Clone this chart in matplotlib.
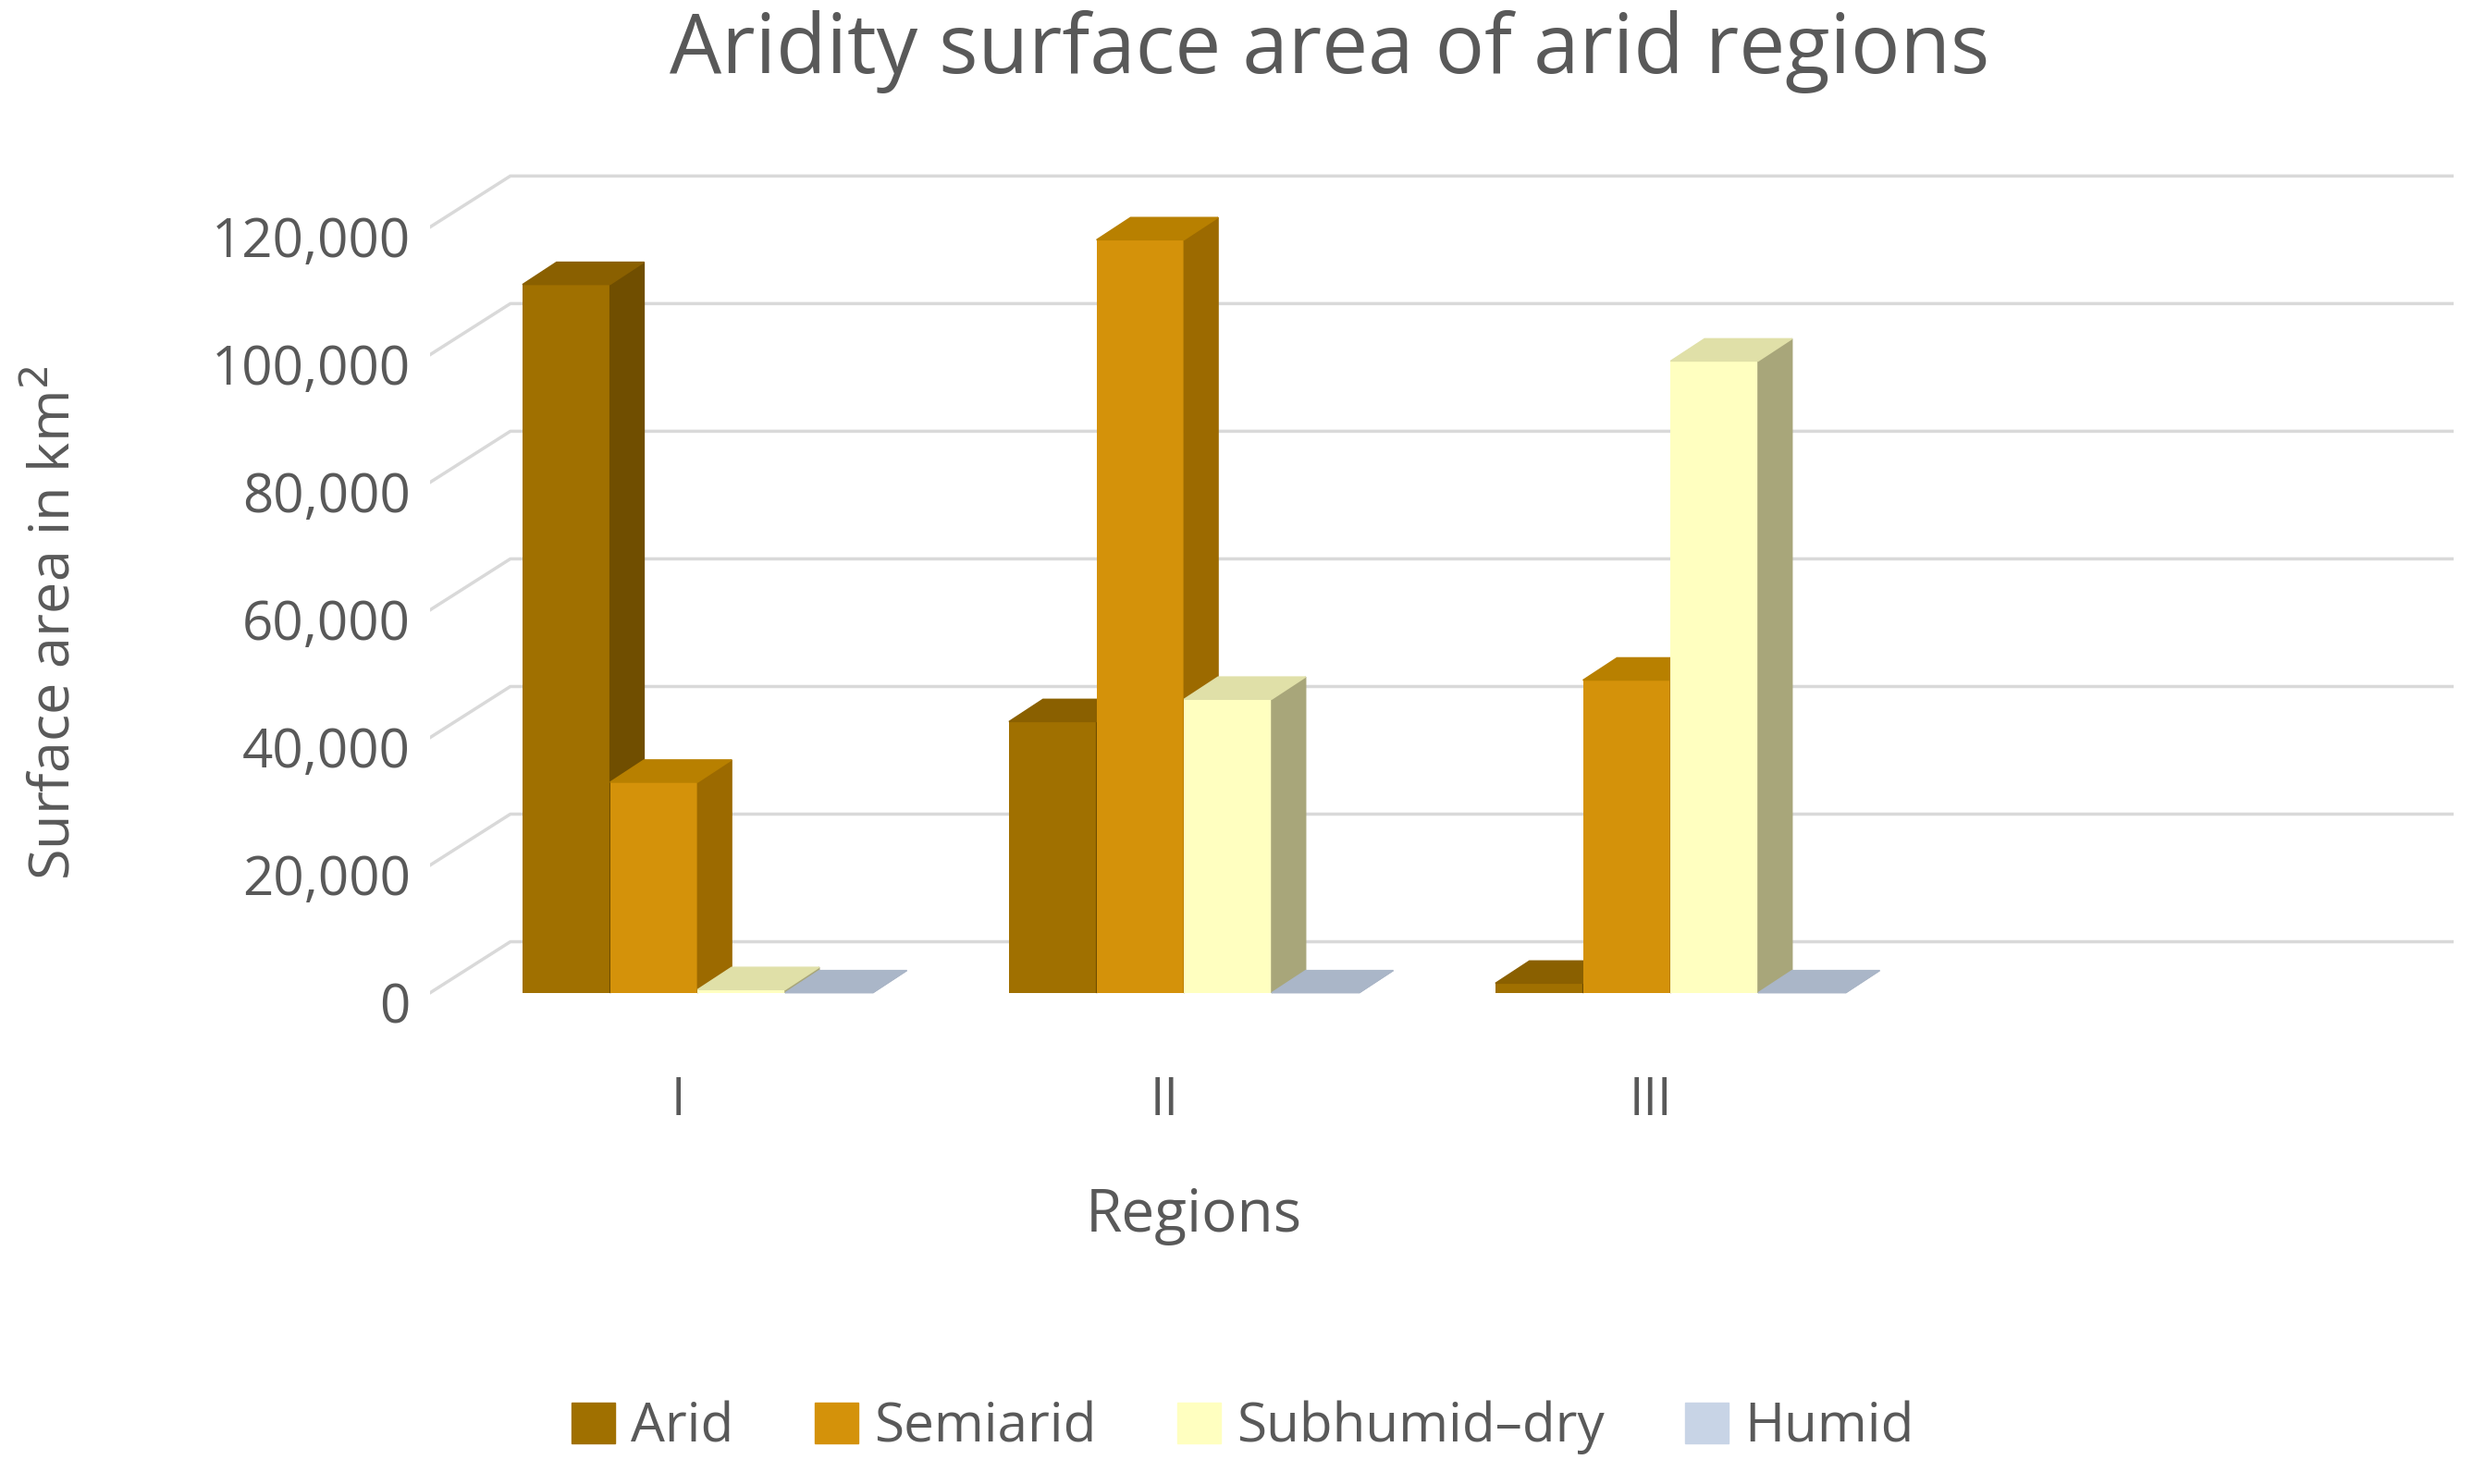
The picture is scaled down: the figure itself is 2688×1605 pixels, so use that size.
import matplotlib.pyplot as plt
from matplotlib.patches import Polygon

plt.rcParams['font.family'] = ['Open Sans', 'DejaVu Sans']

regions = ['I', 'II', 'III']
series = ['Arid', 'Semiarid', 'Subhumid–dry', 'Humid']
arid = [111000, 42500, 1500]
semiarid = [33000, 118000, 49000]
subhumid = [500, 46000, 99000]
humid = [0, 0, 0]
values = [arid, semiarid, subhumid, humid]
yticks = [0, 20000, 40000, 60000, 80000, 100000, 120000]

front = ['#A07000', '#D4920A', '#FFFFC0', '#C8D4E6']
side = ['#704E00', '#9C6A00', '#A8A67A', '#96A2B4']
top = ['#8A6000', '#B88000', '#E0E0A8', '#AAB6C8']

fig = plt.figure(figsize=(26.88, 16.05), dpi=100)
ax = fig.add_axes([0.173, 0.159, 0.814, 0.731])
ax.set_xlim(-0.51, 3.65)
ax.set_ylim(-40000, 130000)
ax.axis('off')

gdx, gdy = 0.165, 8000   # back wall offset for gridlines
dx, dy = 0.07, 3500      # bar depth
xl, xr = -0.51, 3.65
for v in yticks:
    ax.plot([xl, xl + gdx, xr], [v, v + gdy, v + gdy], color='#D9D9D9', lw=2.5, zorder=0)
    ax.text(xl - 0.04, v - 2500, f'{v:,}', ha='right', va='center', fontsize=42, color='#595959')

w = 0.18
for i, r in enumerate(regions):
    for k in range(4):
        x0 = i - 0.32 + k * w
        h = values[k][i]
        z = 2 + i * 4 + k
        ax.bar(x0, h, width=w, align='edge', color=front[k], zorder=z)
        ax.add_patch(Polygon([(x0 + w, 0), (x0 + w + dx, dy), (x0 + w + dx, h + dy), (x0 + w, h)],
                             closed=True, color=side[k], zorder=z))
        ax.add_patch(Polygon([(x0, h), (x0 + w, h), (x0 + w + dx, h + dy), (x0 + dx, h + dy)],
                             closed=True, color=top[k], zorder=z))
    ax.text(i, -17000, r, ha='center', va='center', fontsize=40, color='#595959')

ax.text(1.06, -35000, 'Regions', ha='center', va='center', fontsize=46, color='#595959')
fig.text(0.022, 0.58, 'Surface area in km$^2$', rotation=90, ha='center', va='center',
         fontsize=44, color='#595959')
fig.text(0.535, 0.965, 'Aridity surface area of arid regions', ha='center', va='center',
         fontsize=64, color='#595959')

handles = [plt.Rectangle((0, 0), 1, 1, color=c) for c in front]
fig.legend(handles, series, loc='center', bbox_to_anchor=(0.50, 0.038), ncol=4, frameon=False,
           fontsize=42, labelcolor='#595959', handlelength=0.8, handleheight=0.8,
           handletextpad=0.3, columnspacing=1.5)

fig.savefig('out.png', dpi=100)
